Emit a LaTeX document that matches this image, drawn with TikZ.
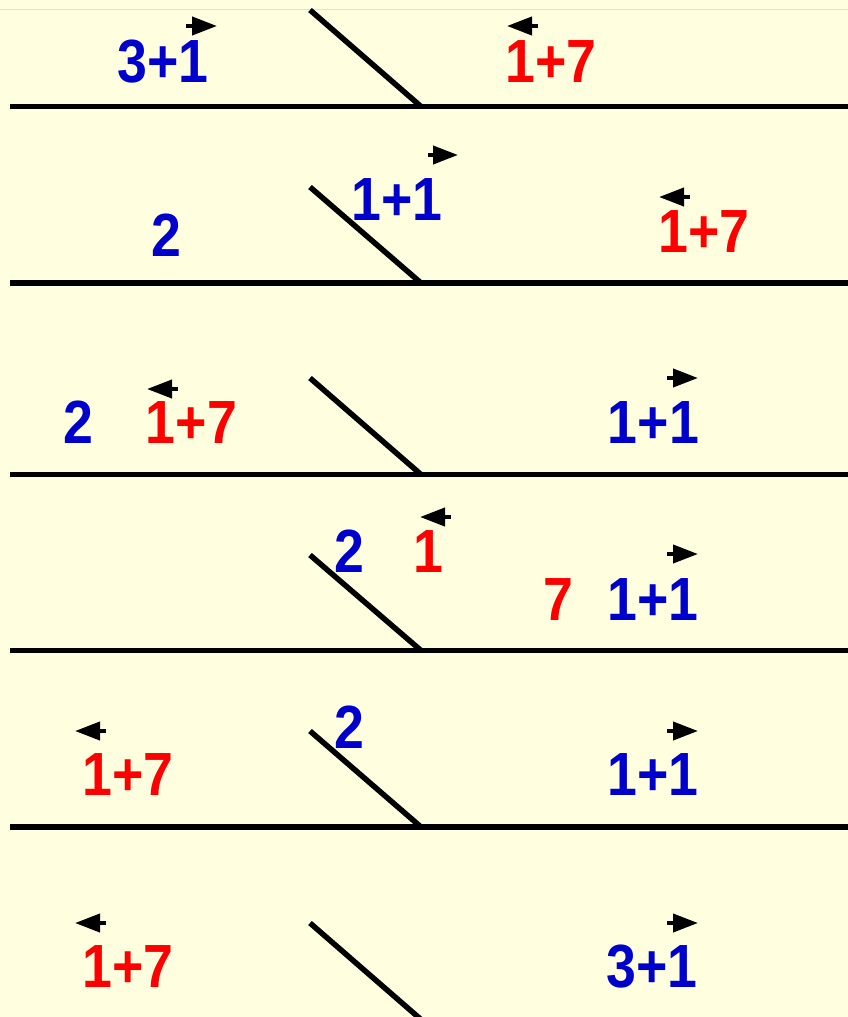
\documentclass[tikz,border=0pt]{standalone}
\usepackage{fontspec}
\setmainfont{Liberation Sans}
\usetikzlibrary{arrows.meta}
\definecolor{bg}{RGB}{255,255,224}
\definecolor{numblue}{RGB}{0,0,204}
\definecolor{numred}{RGB}{255,0,0}
\definecolor{topline}{RGB}{225,225,205}
\newcommand{\narrow}[1]{\scalebox{0.88}[1]{#1}}
\tikzset{
  num/.style={font=\fontsize{61}{61}\selectfont\bfseries, inner sep=0pt, anchor=base},
  bnum/.style={num, text=numblue},
  rnum/.style={num, text=numred},
  floor/.style={line width=5.5pt},
  wall/.style={line width=5.5pt},
  mover/.style={line width=4pt, -{Triangle[length=25pt,width=18pt]}},
}
\begin{document}
\begin{tikzpicture}[x=1pt,y=-1pt]
\fill[bg] (0,0) rectangle (848,1017);
\useasboundingbox (0,0) rectangle (848,1017);
\draw[topline, line width=1pt] (0,9) -- (848,9);

% floors and walls
\foreach \i/\t/\b in {1/10/106.5, 2/187/283, 3/378/474.5, 4/555/650.5, 5/731/827, 6/923/1019.5}{
  \coordinate (fl\i) at (10,\b);
  \coordinate (fr\i) at (848,\b);
  \coordinate (wt\i) at (310,\t);
  \coordinate (wb\i) at (421,\b);
  \draw[floor] (fl\i) -- (fr\i);
  \draw[wall] (wt\i) -- (wb\i);
}

% panel 1
\node[bnum] (p1a) at (163,82) {\narrow{3+1}};
\node[rnum] (p1b) at (551,82) {\narrow{1+7}};
\coordinate (a1s) at (186,26); \coordinate (a1e) at (217,26);
\draw[mover] (a1s) -- (a1e);
\coordinate (b1s) at (538,26); \coordinate (b1e) at (507,26);
\draw[mover] (b1s) -- (b1e);

% panel 2
\node[bnum] (p2a) at (166,256) {\narrow{2}};
\node[bnum] (p2b) at (397,220) {\narrow{1+1}};
\node[rnum] (p2c) at (704,252) {\narrow{1+7}};
\coordinate (a2s) at (428,155); \coordinate (a2e) at (458,155);
\draw[mover] (a2s) -- (a2e);
\coordinate (b2s) at (690,197); \coordinate (b2e) at (659,197);
\draw[mover] (b2s) -- (b2e);

% panel 3
\node[bnum] (p3a) at (78,443) {\narrow{2}};
\node[rnum] (p3b) at (191.5,443) {\narrow{1+7}};
\node[bnum] (p3c) at (653.5,443) {\narrow{1+1}};
\coordinate (b3s) at (178,389); \coordinate (b3e) at (147,389);
\draw[mover] (b3s) -- (b3e);
\coordinate (a3s) at (667,378); \coordinate (a3e) at (698,378);
\draw[mover] (a3s) -- (a3e);

% panel 4
\node[bnum] (p4a) at (349,572) {\narrow{2}};
\node[rnum] (p4b) at (428,572) {\narrow{1}};
\node[rnum] (p4c) at (558,620) {\narrow{7}};
\node[bnum] (p4d) at (653,620) {\narrow{1+1}};
\coordinate (b4s) at (451,517); \coordinate (b4e) at (420,517);
\draw[mover] (b4s) -- (b4e);
\coordinate (a4s) at (667,554); \coordinate (a4e) at (698,554);
\draw[mover] (a4s) -- (a4e);

% panel 5
\node[rnum] (p5a) at (128,795) {\narrow{1+7}};
\node[bnum] (p5b) at (349,748) {\narrow{2}};
\node[bnum] (p5c) at (653,795) {\narrow{1+1}};
\coordinate (b5s) at (106,731); \coordinate (b5e) at (75,731);
\draw[mover] (b5s) -- (b5e);
\coordinate (a5s) at (667,731); \coordinate (a5e) at (698,731);
\draw[mover] (a5s) -- (a5e);

% panel 6
\node[rnum] (p6a) at (128,987) {\narrow{1+7}};
\node[bnum] (p6b) at (652,987) {\narrow{3+1}};
\coordinate (b6s) at (106,923); \coordinate (b6e) at (75,923);
\draw[mover] (b6s) -- (b6e);
\coordinate (a6s) at (667,923); \coordinate (a6e) at (698,923);
\draw[mover] (a6s) -- (a6e);
\end{tikzpicture}
\end{document}
